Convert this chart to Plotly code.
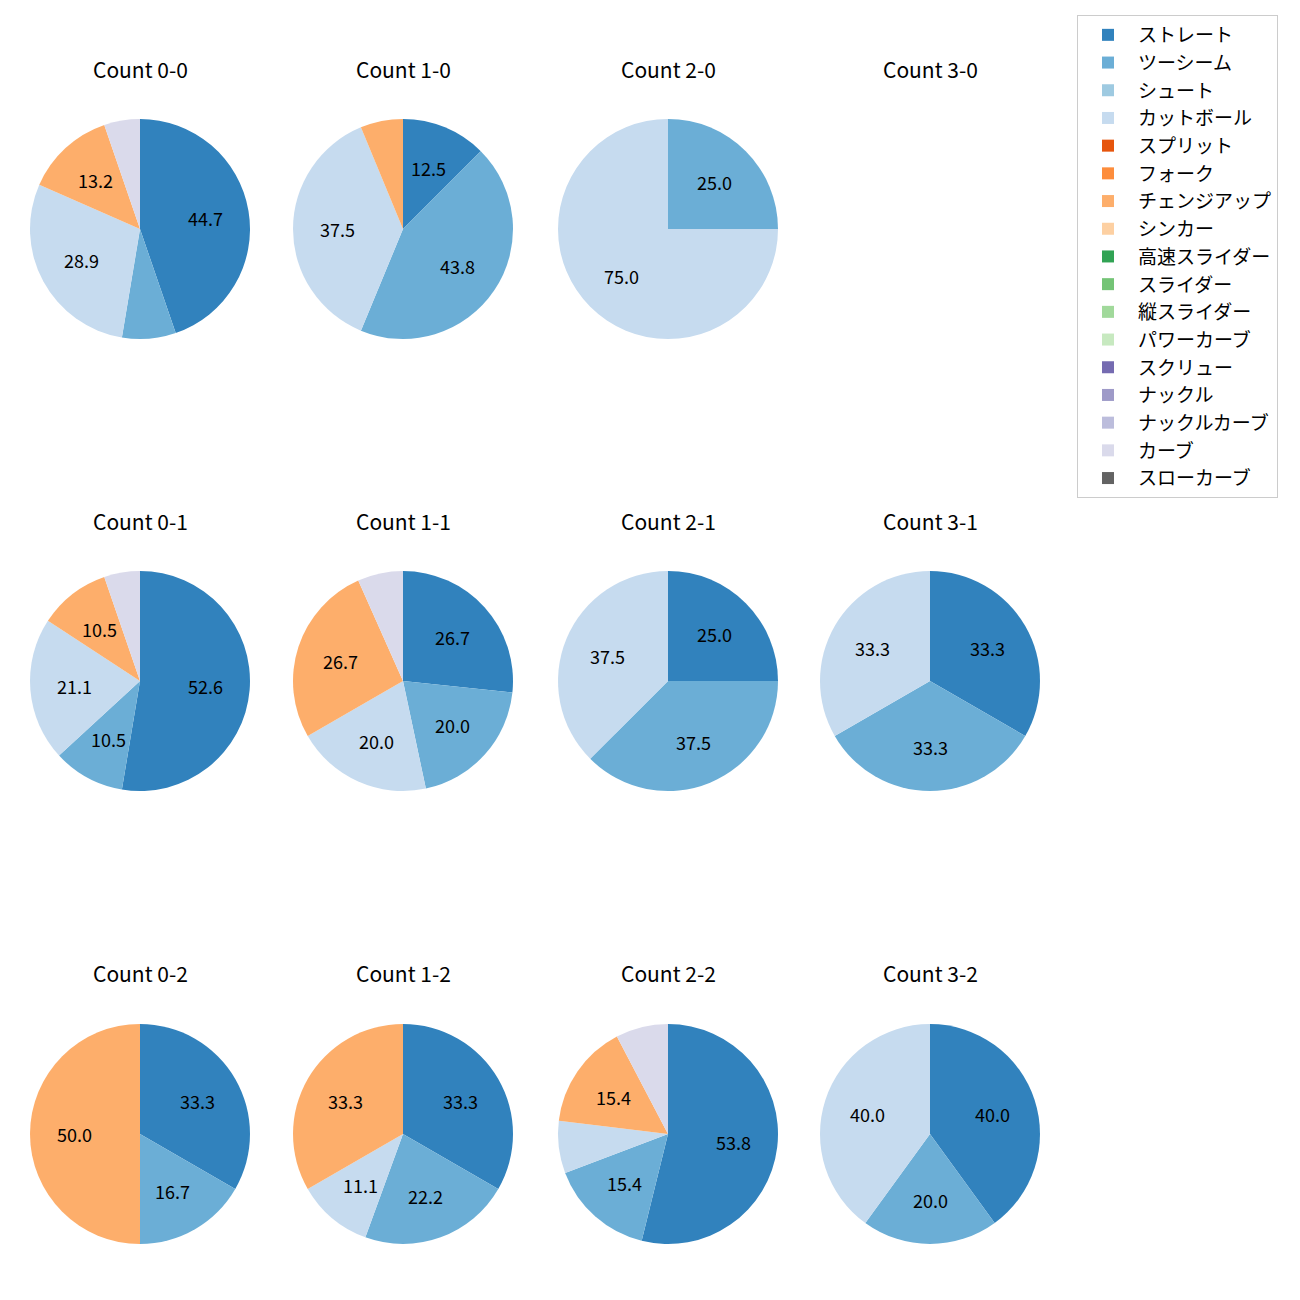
import math
import plotly.graph_objects as go

pitch_types = ["ストレート", "ツーシーム", "シュート", "カットボール", "スプリット", "フォーク",
               "チェンジアップ", "シンカー", "高速スライダー", "スライダー", "縦スライダー",
               "パワーカーブ", "スクリュー", "ナックル", "ナックルカーブ", "カーブ", "スローカーブ"]
colors = ["#3182bd", "#6baed6", "#9ecae1", "#c6dbef", "#e6550d", "#fd8d3c", "#fdae6b", "#fdd0a2",
          "#31a354", "#74c476", "#a1d99b", "#c7e9c0", "#756bb1", "#9e9ac8", "#bcbddc", "#dadaeb",
          "#636363"]

counts = ["0-0", "1-0", "2-0", "3-0",
          "0-1", "1-1", "2-1", "3-1",
          "0-2", "1-2", "2-2", "3-2"]

# pitch counts per ball-strike count
count_00 = {"ストレート": 17, "ツーシーム": 3, "カットボール": 11, "チェンジアップ": 5, "カーブ": 2}
count_10 = {"ストレート": 2, "ツーシーム": 7, "カットボール": 6, "チェンジアップ": 1}
count_20 = {"ツーシーム": 1, "カットボール": 3}
count_30 = {}
count_01 = {"ストレート": 10, "ツーシーム": 2, "カットボール": 4, "チェンジアップ": 2, "カーブ": 1}
count_11 = {"ストレート": 4, "ツーシーム": 3, "カットボール": 3, "チェンジアップ": 4, "カーブ": 1}
count_21 = {"ストレート": 2, "ツーシーム": 3, "カットボール": 3}
count_31 = {"ストレート": 1, "ツーシーム": 1, "カットボール": 1}
count_02 = {"ストレート": 2, "ツーシーム": 1, "チェンジアップ": 3}
count_12 = {"ストレート": 3, "ツーシーム": 2, "カットボール": 1, "チェンジアップ": 3}
count_22 = {"ストレート": 7, "ツーシーム": 2, "カットボール": 1, "チェンジアップ": 2, "カーブ": 1}
count_32 = {"ストレート": 2, "ツーシーム": 1, "カットボール": 2}

data = [count_00, count_10, count_20, count_30,
        count_01, count_11, count_21, count_31,
        count_02, count_12, count_22, count_32]

W = H = 1300
col_cx = [140, 403, 668, 930]
row_cy = [229, 681, 1134]
title_y = [69, 521, 973]
R = 110
FONT = "Noto Sans CJK JP, Noto Sans, sans-serif"

fig = go.Figure()
annotations = []

legend_done = False
for i, (cname, d) in enumerate(zip(counts, data)):
    r, c = divmod(i, 4)
    cx, cy = col_cx[c], row_cy[r]
    annotations.append(dict(x=cx / W, y=1 - title_y[r] / H, xref="paper", yref="paper",
                            text=f"Count {cname}", showarrow=False,
                            font=dict(size=21, color="#000", family=FONT),
                            xanchor="center", yanchor="middle"))
    vals = [d.get(p, 0) for p in pitch_types]
    total = sum(vals)
    if total == 0:
        continue
    fig.add_trace(go.Pie(
        labels=pitch_types, values=vals, sort=False, direction="clockwise", rotation=0,
        marker=dict(colors=colors, line=dict(width=0)),
        textinfo="none", hoverinfo="label+percent",
        domain=dict(x=[(cx - R) / W, (cx + R) / W], y=[1 - (cy + R) / H, 1 - (cy - R) / H]),
        showlegend=not legend_done,
    ))
    legend_done = True
    # percentage labels at 0.6 radius (mid-angle of each slice)
    cum = 0
    for v in vals:
        if v == 0:
            continue
        pct = 100 * v / total
        mid = 90 - 360 * (cum + v / 2) / total
        cum += v
        if pct < 10:
            continue
        lx = cx + 0.6 * R * math.cos(math.radians(mid))
        ly = cy - 0.6 * R * math.sin(math.radians(mid))
        annotations.append(dict(x=lx / W, y=1 - ly / H, xref="paper", yref="paper",
                                text=f"{pct:.1f}", showarrow=False,
                                font=dict(size=18, color="#000", family=FONT),
                                xanchor="center", yanchor="middle"))

fig.update_layout(
    width=W, height=H,
    margin=dict(l=0, r=0, t=0, b=0),
    paper_bgcolor="white", plot_bgcolor="white",
    font=dict(family=FONT, size=14, color="#000"),
    annotations=annotations,
    legend=dict(x=1077 / W, y=1 - 15 / H, xanchor="left", yanchor="top",
                bordercolor="#cccccc", borderwidth=1, bgcolor="white",
                itemwidth=50,
                font=dict(size=19, family=FONT), traceorder="normal"),
)

fig.write_html("out.html")
